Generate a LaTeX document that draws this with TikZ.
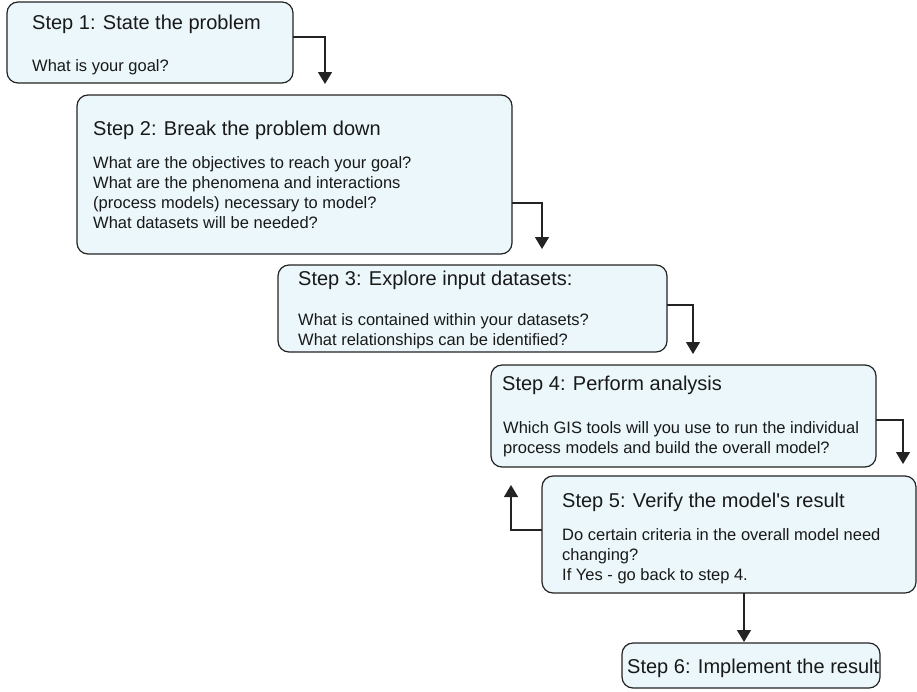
\documentclass[tikz,border=0pt]{standalone}
\usepackage{fontspec}
\setmainfont{Liberation Sans}
\usetikzlibrary{arrows.meta,fit}

\definecolor{boxfill}{RGB}{235,247,250}
\definecolor{boxline}{RGB}{35,35,35}

\tikzset{
  stepbox/.style={draw=boxline, fill=boxfill, line width=1.2pt,
    rounded corners=11pt, inner sep=0pt, outer sep=0pt},
  steptitle/.style={inner sep=0pt, anchor=base west, text=black!90,
    font=\fontsize{20}{24}\selectfont},
  stepbody/.style={inner sep=0pt, anchor=north west, align=left, text=black!90,
    font=\fontsize{16.5}{20}\selectfont},
  flow/.style={draw=boxline, line width=1.2pt,
    -{Triangle[width=14pt,length=12pt]}},
}

\begin{document}
\begin{tikzpicture}[x=1pt, y=-1pt]
  \useasboundingbox (0,0) rectangle (917,691);

  % boxes
  \node[stepbox, fit={(7,2) (293,83)}] (b1) {};
  \node[stepbox, fit={(77,95) (512,254)}] (b2) {};
  \node[stepbox, fit={(278,265) (667,352)}] (b3) {};
  \node[stepbox, fit={(491,365) (876,467)}] (b4) {};
  \node[stepbox, fit={(542,476) (916,593)}] (b5) {};
  \node[stepbox, fit={(622,643) (880,688)}] (b6) {};

  % texts
  \node[steptitle] (b1h) at (32,29) {Step 1: State the problem};
  \node[stepbody] (b1q) at (32,59) {What is your goal?};

  \node[steptitle] (b2h) at (93,135) {Step 2: Break the problem down};
  \node[stepbody] (b2q) at (93,156) {What are the objectives to reach your goal?\\
    What are the phenomena and interactions\\
    (process models) necessary to model?\\
    What datasets will be needed?};

  \node[steptitle] (b3h) at (298,285) {Step 3: Explore input datasets:};
  \node[stepbody] (b3q) at (298,313) {What is contained within your datasets?\\
    What relationships can be identified?};

  \node[steptitle] (b4h) at (502,390) {Step 4: Perform analysis};
  \node[stepbody] (b4q) at (503,421) {Which GIS tools will you use to run the individual\\
    process models and build the overall model?};

  \node[steptitle] (b5h) at (562,507) {Step 5: Verify the model\textquotesingle s result};
  \node[stepbody] (b5q) at (562,528) {Do certain criteria in the overall model need\\
    changing?\\
    If Yes - go back to step 4.};

  \node[steptitle] (b6h) at (627,673) {Step 6: Implement the result};

  % arrow ends
  \coordinate (t1) at (325,84);
  \coordinate (t2) at (542,249);
  \coordinate (t3) at (693,354);
  \coordinate (t4) at (903,464);
  \coordinate (t5) at (511,485);
  \coordinate (t6) at (744,642);

  \draw[flow] ([yshift=5.5pt]b1.east) -| (t1);
  \draw[flow] ([yshift=-28.5pt]b2.east) -| (t2);
  \draw[flow] ([yshift=3.5pt]b3.east) -| (t3);
  \draw[flow] ([yshift=-4pt]b4.east) -| (t4);
  \draw[flow] ([yshift=4.5pt]b5.west) -| (t5);
  \draw[flow] (t6 |- b5.south) -- (t6);
\end{tikzpicture}
\end{document}
